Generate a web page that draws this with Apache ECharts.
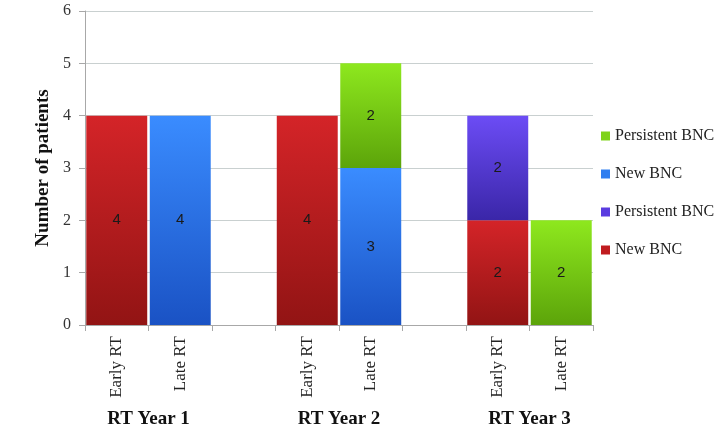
<!DOCTYPE html>
<html>
<head>
<meta charset="utf-8">
<script src="https://cdn.jsdelivr.net/npm/echarts@6/dist/echarts.min.js"></script>
<style>
html,body{margin:0;padding:0;background:#fff;}
#chart{width:716px;height:428px;}
</style>
</head>
<body>
<div id="chart"></div>
<script>
// Data
var categories = ['Early RT','Late RT','','Early RT','Late RT','','Early RT','Late RT'];
var groupLabels = ['RT Year 1','RT Year 2','RT Year 3'];
var yTicks = [0,1,2,3,4,5,6];
var earlyNew        = [4, null, null, 4, null, null, 2, null];
var earlyPersistent = [null, null, null, null, null, null, 2, null];
var lateNew         = [null, 4, null, null, 3, null, null, null];
var latePersistent  = [null, null, null, null, 2, null, null, 2];

function grad(top, bottom){
  return new echarts.graphic.LinearGradient(0,0,0,1,[{offset:0,color:top},{offset:1,color:bottom}]);
}
var serif = '"Liberation Serif", "DejaVu Serif", serif';
var sans = '"Liberation Sans", Arial, sans-serif';

var labelCfg = {show:true, position:'inside', color:'#1a1a1a', fontFamily:sans, fontSize:15,
  formatter:function(p){return p.value==null?'':p.value;}};

function mkSeries(name, data, top, bottom){
  return {name:name, type:'bar', stack:'all', data:data, barCategoryGap:'4%',
    itemStyle:{color:grad(top,bottom)}, label:labelCfg, emphasis:{disabled:true}};
}

// group label positions: center of each early/late pair (category boundary index)
var groupPos = {};
groupLabels.forEach(function(g,i){ groupPos[i*3+1] = g; });

var chart = echarts.init(document.getElementById('chart'), null, {renderer:'canvas'});
chart.setOption({
  animation:false,
  backgroundColor:'#fff',
  grid:{left:85, right:123, top:11, bottom:103, containLabel:false, outerBoundsMode:'none'},
  legend:{
    orient:'vertical', left:596, top:123, itemGap:22, itemWidth:9, itemHeight:9,
    icon:'rect', textStyle:{fontFamily:serif, fontSize:16, color:'#222'},
    data:[
      {name:'Persistent BNC', itemStyle:{color:'#7fd31a'}},
      {name:'New BNC', itemStyle:{color:'#2f7ef0'}},
      {name:'Persistent BNC ', itemStyle:{color:'#5a3ce0'}},
      {name:'New BNC ', itemStyle:{color:'#c01c20'}}
    ]
  },
  xAxis:[{
    type:'category', data:categories, position:'bottom',
    axisLine:{lineStyle:{color:'#a8a8a8'}},
    axisTick:{show:true, length:6, lineStyle:{color:'#a8a8a8'}},
    axisLabel:{interval:0, rotate:90, margin:11, fontFamily:serif, fontSize:17, color:'#222'}
  },{
    type:'value', min:0, max:8, interval:1, position:'bottom', offset:77,
    axisLine:{show:false}, axisTick:{show:false}, splitLine:{show:false},
    axisLabel:{margin:8, fontFamily:serif, fontSize:19, fontWeight:'bold', color:'#111',
      formatter:function(v){return groupPos[v]||'';}}
  }],
  yAxis:{
    type:'value', min:yTicks[0], max:yTicks[yTicks.length-1], interval:1,
    name:'Number of patients', nameLocation:'middle', nameGap:29,
    nameTextStyle:{fontFamily:serif, fontSize:19, fontWeight:'bold', color:'#111'},
    axisLine:{show:true, lineStyle:{color:'#a8a8a8'}},
    axisTick:{show:true, length:6, lineStyle:{color:'#a8a8a8'}},
    axisLabel:{margin:14, fontFamily:serif, fontSize:16, color:'#333'},
    splitLine:{lineStyle:{color:'#c9d0d0'}}
  },
  series:[
    mkSeries('New BNC ', earlyNew, '#d42428', '#921414'),
    mkSeries('Persistent BNC ', earlyPersistent, '#6c4cf5', '#3a26a8'),
    mkSeries('New BNC', lateNew, '#3a8cff', '#1a52c4'),
    mkSeries('Persistent BNC', latePersistent, '#8ee81e', '#5ca40a')
  ]
});
</script>
</body>
</html>
